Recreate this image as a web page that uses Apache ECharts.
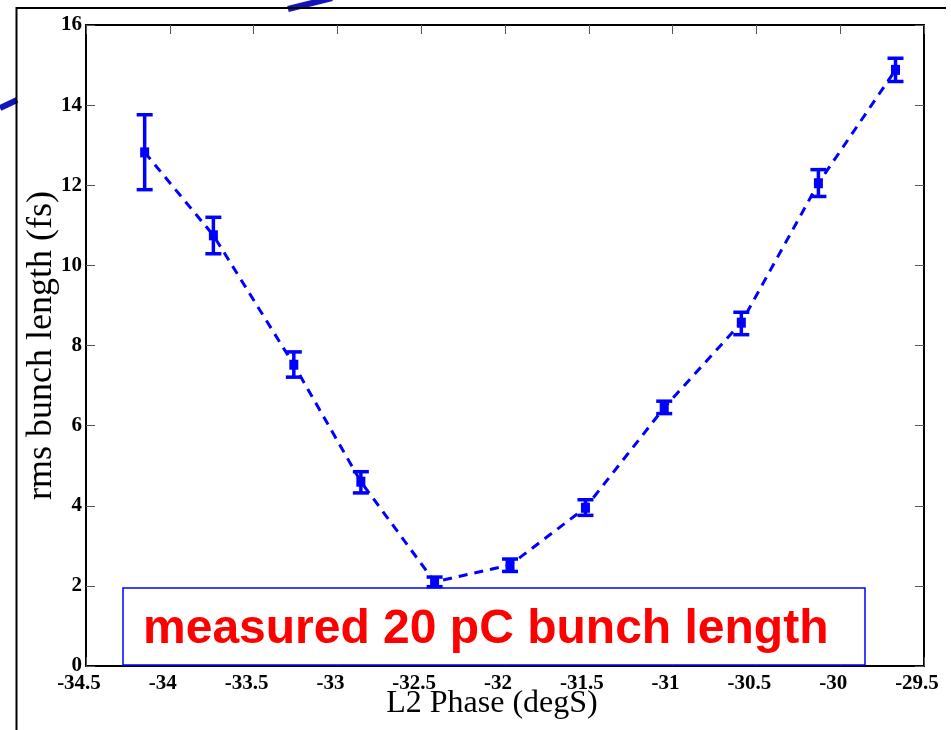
<!DOCTYPE html>
<html>
<head>
<meta charset="utf-8">
<style>
  html, body { margin: 0; padding: 0; background: #fff; }
  #chart { width: 951px; height: 730px; }
</style>
<script src="https://cdn.jsdelivr.net/npm/echarts@6/dist/echarts.min.js"></script>
</head>
<body>
<div id="chart"></div>
<script>
// L2 phase (degS) of each measurement
const phase = [-34.15, -33.74, -33.26, -32.86, -32.42, -31.97, -31.52, -31.05, -30.59, -30.13, -29.67]
// rms bunch length (fs)
const bunchLen = [12.82, 10.75, 7.52, 4.6, 2.1, 2.52, 3.95, 6.45, 8.57, 12.05, 14.88]
// error bar ends
const errLow = [11.89, 10.29, 7.21, 4.32, 1.98, 2.36, 3.76, 6.3, 8.27, 11.72, 14.59]
const errHigh = [13.76, 11.2, 7.84, 4.85, 2.22, 2.67, 4.15, 6.61, 8.83, 12.39, 15.17]

const xTicks = { min: -34.5, max: -29.5, interval: 0.5 }
const yTicks = { min: 0, max: 16, interval: 2 }

const BLUE = '#0000ff'
const labelFont = {
  color: '#000',
  fontFamily: 'Liberation Serif',
  fontWeight: 'bold',
  fontSize: 21
}

const chart = echarts.init(document.getElementById('chart'), null, { renderer: 'canvas' })

const lineData = phase.map((x, i) => [x, bunchLen[i]])
const errData = phase.map((x, i) => [x, errLow[i], errHigh[i]])

function axisBase(pos, showLabel) {
  return {
    type: 'value',
    position: pos,
    axisLine: { show: true, onZero: false, lineStyle: { color: '#000', width: 2 } },
    axisTick: { show: true, inside: true, length: 9, lineStyle: { color: '#555', width: 1 } },
    axisLabel: Object.assign({ show: showLabel }, labelFont),
    splitLine: { show: false }
  }
}

const xMain = Object.assign(axisBase('bottom', true), xTicks, {
  name: 'L2 Phase (degS)',
  nameLocation: 'middle',
  nameGap: 22,
  nameMoveOverlap: false,
  nameTextStyle: {
    color: '#000',
    fontFamily: 'Liberation Serif',
    fontSize: 32,
    padding: [0, 26, 0, 0]
  }
})
xMain.axisLabel.margin = 7
xMain.axisLabel.padding = [0, 14, 0, 0]

const yMain = Object.assign(axisBase('left', true), yTicks, {
  name: 'rms bunch length (fs)',
  nameLocation: 'middle',
  nameGap: 26,
  nameMoveOverlap: false,
  nameTextStyle: {
    color: '#000',
    fontFamily: 'Liberation Serif',
    fontSize: 36
  }
})
yMain.axisLabel.margin = 4

const option = {
  animation: false,
  backgroundColor: '#fff',
  grid: { left: 86, right: 27, top: 25, bottom: 64 },
  xAxis: [xMain, Object.assign(axisBase('top', false), xTicks)],
  yAxis: [yMain, Object.assign(axisBase('right', false), yTicks)],
  graphic: [
    // slide decoration behind the figure
    { type: 'polyline', z: 1, shape: { points: [[0, 108], [17, 100]] }, style: { stroke: '#1414b8', lineWidth: 6 } },
    { type: 'polyline', z: 1, shape: { points: [[288, 9], [332, -2]] }, style: { stroke: '#1414b8', lineWidth: 6 } },
    { type: 'polyline', z: 2, shape: { points: [[946, 8], [16.5, 8], [16.5, 730]] }, style: { stroke: '#000', lineWidth: 2, fill: null } },
    // annotation box
    {
      type: 'rect', z: 3,
      shape: { x: 123, y: 588, width: 742, height: 77 },
      style: { fill: '#fff', stroke: BLUE, lineWidth: 1.5 }
    },
    {
      type: 'text', z: 4, left: 143, top: 606,
      style: {
        text: 'measured 20 pC bunch length',
        fill: '#ff0000',
        font: 'bold 48px "Liberation Sans", Arial, sans-serif'
      }
    }
  ],
  series: [
    {
      type: 'line',
      data: lineData,
      z: 5,
      symbol: 'rect',
      symbolSize: [9, 10],
      itemStyle: { color: BLUE },
      lineStyle: { color: BLUE, width: 3, type: [9, 7] }
    },
    {
      type: 'custom',
      z: 6,
      data: errData,
      renderItem: function (params, api) {
        const x = api.value(0)
        const lo = api.coord([x, api.value(1)])
        const hi = api.coord([x, api.value(2)])
        const half = 8
        const st = { stroke: BLUE, lineWidth: 3.5 }
        return {
          type: 'group',
          children: [
            { type: 'line', shape: { x1: lo[0], y1: lo[1], x2: hi[0], y2: hi[1] }, style: st },
            { type: 'line', shape: { x1: lo[0] - half, y1: lo[1], x2: lo[0] + half, y2: lo[1] }, style: st },
            { type: 'line', shape: { x1: hi[0] - half, y1: hi[1], x2: hi[0] + half, y2: hi[1] }, style: st }
          ]
        }
      }
    }
  ]
}

chart.setOption(option)
</script>
</body>
</html>
